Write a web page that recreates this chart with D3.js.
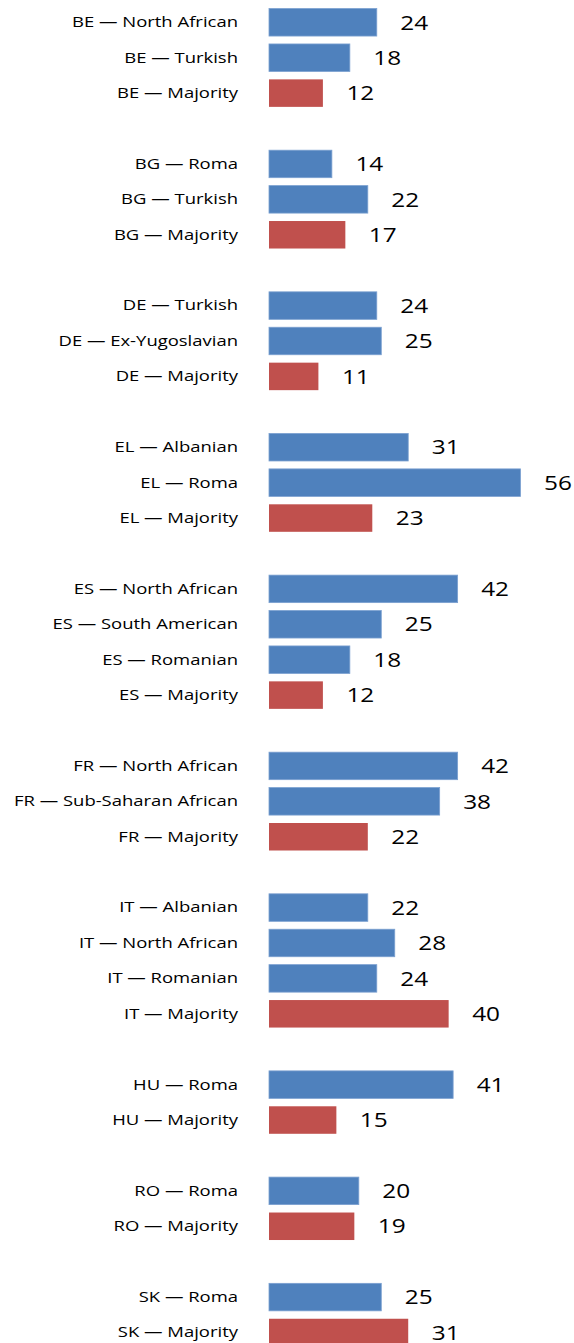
<!DOCTYPE html>
<html>
<head>
<meta charset="utf-8">
<script src="https://cdn.jsdelivr.net/npm/d3@7"></script>
<style>
  body { margin: 0; background: #fff; }
  svg { display: block; }
</style>
</head>
<body>
<div id="chart"></div>
<script>
// groups of rows, one blank row between groups
var countries = ["BE", "BG", "DE", "EL", "ES", "FR", "IT", "HU", "RO", "SK"];
var groups = [
    ["North African", "Turkish", "Majority"],
    ["Roma", "Turkish", "Majority"],
    ["Turkish", "Ex-Yugoslavian", "Majority"],
    ["Albanian", "Roma", "Majority"],
    ["North African", "South American", "Romanian", "Majority"],
    ["North African", "Sub-Saharan African", "Majority"],
    ["Albanian", "North African", "Romanian", "Majority"],
    ["Roma", "Majority"],
    ["Roma", "Majority"],
    ["Roma", "Majority"]
];
var values = [
    [24, 18, 12],
    [14, 22, 17],
    [24, 25, 11],
    [31, 56, 23],
    [42, 25, 18, 12],
    [42, 38, 22],
    [22, 28, 24, 40],
    [41, 15],
    [20, 19],
    [25, 31]
];

var width = 574, height = 1343;
var barLeft = 269;

var rows = [];
var keys = [];
countries.forEach(function(c, gi){
    if (gi > 0) keys.push("gap" + gi);
    groups[gi].forEach(function(g, j){
        var key = c + " \u2014 " + g;
        keys.push(key);
        rows.push({label: key, value: values[gi][j], majority: g == "Majority"});
    });
});

var svg = d3.select("#chart").append("svg")
    .attr("width", width)
    .attr("height", height);

var y = d3.scalePoint().domain(keys).range([22.3, 1332.5]);
var x = d3.scaleLinear().domain([0, 56]).range([barLeft, 520.5]);
var barH = 27.5;

svg.selectAll("rect.bar")
    .data(rows)
    .enter()
    .append("rect")
    .attr("class", "bar")
    .attr("x", x(0))
    .attr("y", function(d){ return y(d.label) - barH/2; })
    .attr("width", function(d){ return x(d.value) - x(0); })
    .attr("height", barH)
    .attr("fill", function(d){ return d.majority ? "#C0504D" : "#4F81BD"; })
    .attr("stroke", function(d){ return d.majority ? "none" : "#7BA0D0"; })
    .attr("stroke-width", 0.8);

// the labels in the picture are stretched sideways, so scale x
svg.selectAll("text.cat")
    .data(rows)
    .enter()
    .append("text")
    .attr("class", "cat")
    .attr("transform", function(d){ return "translate(238," + y(d.label) + ") scale(1.32,1)"; })
    .attr("dy", "0.35em")
    .attr("text-anchor", "end")
    .style("font-family", "'Open Sans', sans-serif")
    .style("font-size", "14px")
    .attr("fill", "#000")
    .text(function(d){ return d.label; });

svg.selectAll("text.val")
    .data(rows)
    .enter()
    .append("text")
    .attr("class", "val")
    .attr("transform", function(d){ return "translate(" + (x(d.value) + 23.5) + "," + y(d.label) + ") scale(1.22,1)"; })
    .attr("dy", "0.36em")
    .style("font-family", "'Open Sans', sans-serif")
    .style("font-size", "20px")
    .attr("fill", "#000")
    .text(function(d){ return d.value; });
</script>
</body>
</html>
